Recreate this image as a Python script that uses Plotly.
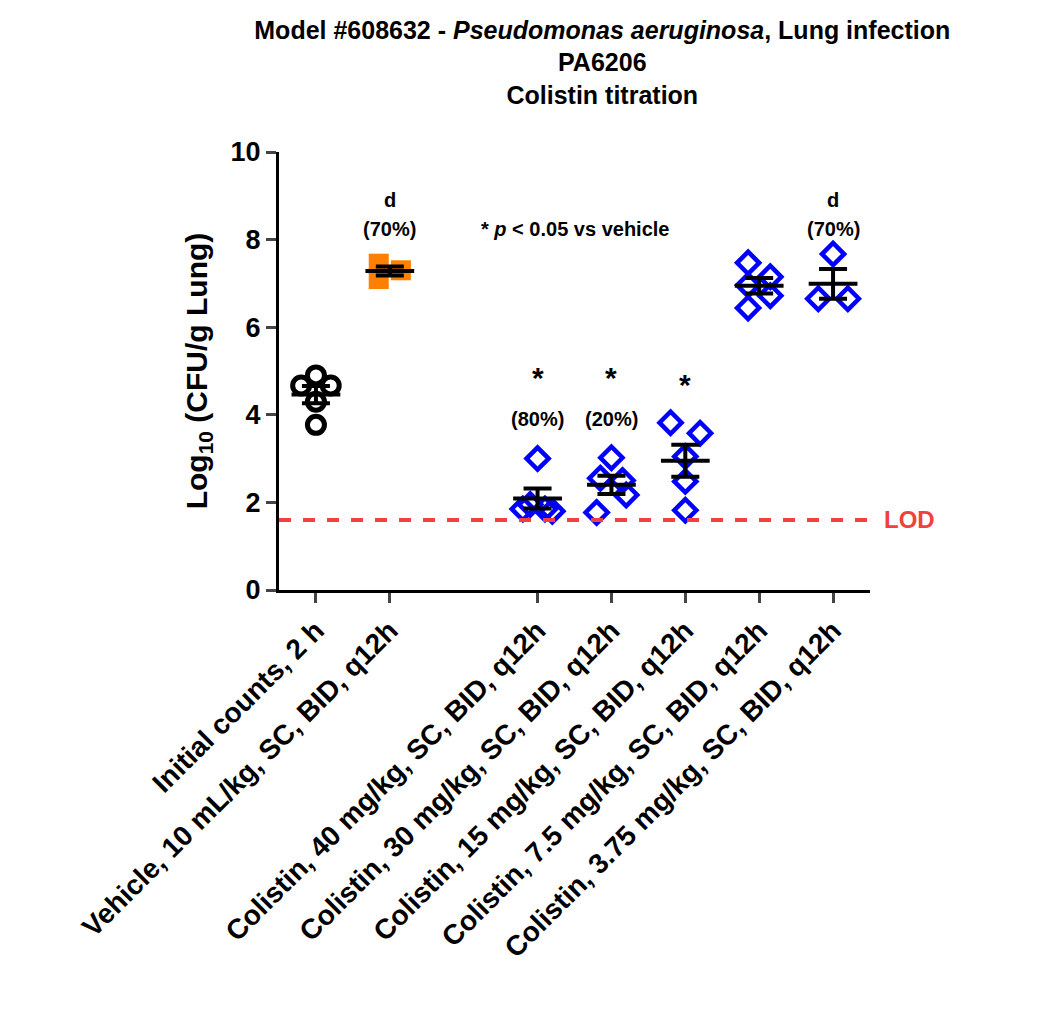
import numpy as np
import plotly.graph_objects as go

categories = ["Initial counts, 2 h", "Vehicle, 10 mL/kg, SC, BID, q12h",
              "Colistin, 40 mg/kg, SC, BID, q12h", "Colistin, 30 mg/kg, SC, BID, q12h",
              "Colistin, 15 mg/kg, SC, BID, q12h", "Colistin, 7.5 mg/kg, SC, BID, q12h",
              "Colistin, 3.75 mg/kg, SC, BID, q12h"]
positions = [1, 2, 4, 5, 6, 7, 8]
values = [
    [4.9, 4.67, 4.67, 4.3, 3.77],
    [7.45, 7.1, 7.3],
    [3.0, 1.85, 1.8, 1.95, 1.85],
    [3.02, 2.55, 2.5, 2.17, 1.77],
    [3.82, 3.58, 3.05, 2.48, 1.82],
    [7.47, 6.96, 6.44, 7.15, 6.72],
    [7.67, 6.65, 6.65],
]
jitter = [
    [0, -0.2, 0.2, 0, 0],
    [-0.15, -0.15, 0.15],
    [0, -0.2, 0.2, -0.1, 0.1],
    [0, -0.15, 0.15, 0.2, -0.2],
    [-0.2, 0.2, 0, 0, 0],
    [-0.15, -0.15, -0.15, 0.15, 0.15],
    [0, -0.2, 0.2],
]
lod = 1.6
top_labels = {2: ["d", "(70%)"], 4: ["*", "(80%)"], 5: ["*", "(20%)"], 6: ["*", ""], 8: ["d", "(70%)"]}

styles = [
    dict(symbol="circle-open", color="black", size=17, line=dict(width=5, color="black")),
    dict(symbol="square", color="#FF8000", size=20, line=dict(width=0)),
] + [dict(symbol="diamond-open", color="#0000FF", size=17, line=dict(width=4.5, color="#0000FF"))] * 5

fig = go.Figure()
for p, v, j, s in zip(positions, values, jitter, styles):
    fig.add_trace(go.Scatter(x=[p + d for d in j], y=v, mode="markers", marker=s, showlegend=False))
for p, v in zip(positions, values):
    m = float(np.mean(v)); sem = float(np.std(v, ddof=1) / np.sqrt(len(v)))
    fig.add_trace(go.Scatter(x=[p - 0.33, p + 0.33], y=[m, m], mode="lines",
                             line=dict(color="black", width=4), showlegend=False))
    fig.add_trace(go.Scatter(x=[p], y=[m], mode="markers", marker=dict(size=1, color="black"),
                             error_y=dict(type="data", array=[sem], color="black", thickness=4, width=14),
                             showlegend=False))
fig.add_trace(go.Scatter(x=[0.5, 8.5], y=[lod, lod], mode="lines",
                         line=dict(color="#F04040", width=4, dash="dash"), showlegend=False, cliponaxis=False))

ann = []
for p, (a, b) in top_labels.items():
    if a == "*":
        ya = 4.85 if p != 6 else 4.7
        ann.append(dict(x=p, y=ya, text="<b>*</b>", showarrow=False, font=dict(size=30)))
        if b:
            ann.append(dict(x=p, y=3.9, text="<b>" + b + "</b>", showarrow=False, font=dict(size=20)))
    else:
        ann.append(dict(x=p, y=8.9, text="<b>" + a + "</b>", showarrow=False, font=dict(size=20)))
        ann.append(dict(x=p, y=8.25, text="<b>" + b + "</b>", showarrow=False, font=dict(size=20)))
ann.append(dict(x=4.5, y=8.25, text="<b>* <i>p</i> < 0.05 vs vehicle</b>", showarrow=False, font=dict(size=20)))
ann.append(dict(xref="paper", x=1.02, y=lod, xanchor="left", text="<b>LOD</b>", showarrow=False,
                font=dict(size=24, color="#F04040")))

fig.update_layout(
    width=1050, height=1026, plot_bgcolor="white", paper_bgcolor="white",
    font=dict(family="Liberation Sans", color="black"),
    margin=dict(l=271, r=188, t=144, b=444),
    title=dict(text="<b>Model #608632 - <i>Pseudomonas aeruginosa</i>, Lung infection<br>PA6206<br>Colistin titration</b>",
               x=0.566, xanchor="center", y=0.97, yanchor="top", font=dict(size=25)),
    annotations=ann,
    xaxis=dict(range=[0.5, 8.5], tickvals=positions, ticktext=["<b>" + c + "</b>" for c in categories],
               tickangle=-45, tickfont=dict(size=28), showline=True, linewidth=3, linecolor="black",
               ticks="outside", ticklen=10, tickwidth=3, showgrid=False, zeroline=False),
    yaxis=dict(range=[0, 10], tickvals=[0, 2, 4, 6, 8, 10], ticktext=["<b>%d</b>" % t for t in [0, 2, 4, 6, 8, 10]],
               tickfont=dict(size=27), showline=True, linewidth=3, linecolor="black",
               ticks="outside", ticklen=10, tickwidth=3, showgrid=False, zeroline=False,
               title=dict(text="<b>Log<sub>10</sub> (CFU/g Lung)</b>", font=dict(size=30), standoff=15)),
)
fig.write_html("out.html")
